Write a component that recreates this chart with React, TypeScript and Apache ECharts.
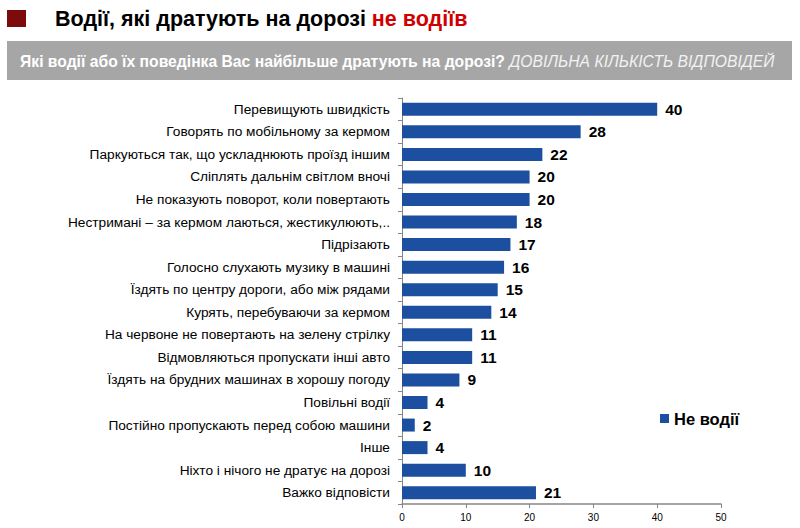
import React, { useEffect, useRef } from "react";
import * as echarts from "echarts";

const categories = [
  "Перевищують швидкість",
  "Говорять по мобільному за кермом",
  "Паркуються так, що ускладнюють проїзд іншим",
  "Сліплять дальнім світлом вночі",
  "Не показують поворот, коли повертають",
  "Нестримані – за кермом лаються, жестикулюють,..",
  "Підрізають",
  "Голосно слухають музику в машині",
  "Їздять по центру дороги, або між рядами",
  "Курять, перебуваючи за кермом",
  "На червоне не повертають на зелену стрілку",
  "Відмовляються пропускати інші авто",
  "Їздять на брудних машинах в хорошу погоду",
  "Повільні водії",
  "Постійно пропускають перед собою машини",
  "Інше",
  "Ніхто і нічого не дратує на дорозі",
  "Важко відповісти",
];

const values = [40, 28, 22, 20, 20, 18, 17, 16, 15, 14, 11, 11, 9, 4, 2, 4, 10, 21];

const seriesName = "Не водії";
const titleMain = "Водії, які дратують на дорозі ";
const titleRed = "не водіїв";
const subtitleBold = "Які водії або їх поведінка Вас найбільше дратують на дорозі? ";
const subtitleItalic = "ДОВІЛЬНА КІЛЬКІСТЬ ВІДПОВІДЕЙ";
const xTicks = [0, 10, 20, 30, 40, 50];

const FONT = "'Liberation Sans', Arial, Helvetica, sans-serif";

export default function App() {
  const ref = useRef<HTMLDivElement>(null);
  useEffect(() => {
    if (!ref.current) return;
    const chart = echarts.init(ref.current, undefined, { renderer: "svg" });
    chart.setOption({
      animation: false,
      backgroundColor: "#ffffff",
      textStyle: { fontFamily: FONT },
      graphic: [
        {
          type: "rect",
          shape: { x: 7, y: 10, width: 19, height: 17 },
          style: { fill: "#7d0b0b" },
        },
        {
          type: "text",
          x: 55,
          y: 19,
          style: {
            text: "{a|" + titleMain + "}{r|" + titleRed + "}",
            verticalAlign: "middle",
            rich: {
              a: { fontSize: 21.5, fontWeight: "bold", fill: "#000000", fontFamily: FONT },
              r: { fontSize: 21.5, fontWeight: "bold", fill: "#d00000", fontFamily: FONT },
            },
          },
        },
        {
          type: "rect",
          shape: { x: 7, y: 41, width: 785, height: 39 },
          style: { fill: "#a6a6a6" },
        },
        {
          type: "text",
          x: 20,
          y: 61,
          style: {
            text: "{b|" + subtitleBold + "}{i|" + subtitleItalic + "}",
            verticalAlign: "middle",
            rich: {
              b: { fontSize: 15.7, fontWeight: "bold", fill: "#ffffff", fontFamily: FONT },
              i: { fontSize: 15.7, fontStyle: "italic", fill: "#f2f2f2", fontFamily: FONT },
            },
          },
        },
      ],
      legend: {
        show: true,
        data: [seriesName],
        left: 655,
        top: 405,
        itemWidth: 9,
        itemHeight: 9,
        itemGap: 5,
        icon: "rect",
        textStyle: { fontSize: 16.5, fontWeight: "bold", color: "#000", fontFamily: FONT },
      },
      grid: { left: 402, right: 79, top: 98, bottom: 24, containLabel: false },
      xAxis: {
        type: "value",
        min: 0,
        max: 50,
        interval: 10,
        splitLine: { show: false },
        axisLine: { show: true, lineStyle: { color: "#868686", width: 1.5 } },
        axisTick: { show: true, length: 4, lineStyle: { color: "#868686" } },
        axisLabel: {
          fontSize: 10,
          color: "#000",
          margin: 8,
          fontFamily: FONT,
          formatter: (v: number) => (xTicks.includes(v) ? String(v) : ""),
        },
      },
      yAxis: {
        type: "category",
        data: categories,
        inverse: true,
        axisLine: { show: true, lineStyle: { color: "#868686", width: 1 } },
        axisTick: { show: true, length: 4, lineStyle: { color: "#868686" } },
        axisLabel: { fontSize: 13.7, color: "#000", margin: 12, fontFamily: FONT },
      },
      series: [
        {
          name: seriesName,
          type: "bar",
          data: values,
          barWidth: 13,
          itemStyle: { color: "#1c4f9f" },
          label: {
            show: true,
            position: "right",
            distance: 8,
            fontSize: 15.5,
            fontWeight: "bold",
            color: "#000",
            fontFamily: FONT,
          },
        },
      ],
    });
    return () => chart.dispose();
  }, []);
  return (
    <div
      ref={ref}
      style={{ position: "fixed", left: 0, top: 0, width: 800, height: 528 }}
    />
  );
}
